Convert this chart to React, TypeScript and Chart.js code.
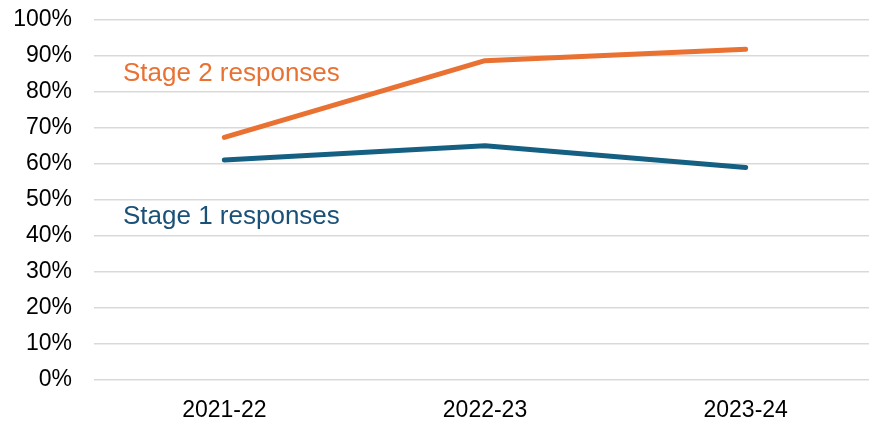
import React, { useEffect, useRef } from "react";
import { Chart, registerables } from "chart.js";

Chart.register(...registerables);

const categories = ["2021-22", "2022-23", "2023-24"];
const stage2Values = [0.674, 0.887, 0.919];
const stage1Values = [0.611, 0.651, 0.590];
const yTickValues = [0, 0.1, 0.2, 0.3, 0.4, 0.5, 0.6, 0.7, 0.8, 0.9, 1.0];
const seriesLabels = ["Stage 2 responses", "Stage 1 responses"];
const labelYValues = [0.85, 0.453];

const ORANGE = "#E97132";
const BLUE = "#156082";

const seriesLabelPlugin = {
  id: "seriesLabels",
  afterDatasetsDraw(chart: any) {
    const { ctx, scales } = chart;
    const y = scales.y;
    ctx.save();
    ctx.font = '26px "Liberation Sans", Arial, sans-serif';
    ctx.textBaseline = "middle";
    ctx.textAlign = "left";
    const colors = [ORANGE, "#1B5077"];
    seriesLabels.forEach((t, i) => {
      ctx.fillStyle = colors[i];
      ctx.fillText(t, 123, y.getPixelForValue(labelYValues[i]));
    });
    ctx.restore();
  },
};

export default function App() {
  const ref = useRef<HTMLCanvasElement | null>(null);
  useEffect(() => {
    if (!ref.current) return;
    const chart = new Chart(ref.current, {
      type: "line",
      data: {
        labels: categories,
        datasets: [
          {
            label: seriesLabels[0],
            data: stage2Values,
            borderColor: ORANGE,
            borderWidth: 5,
            pointRadius: 0,
            borderCapStyle: "round",
            borderJoinStyle: "round",
            tension: 0,
          },
          {
            label: seriesLabels[1],
            data: stage1Values,
            borderColor: BLUE,
            borderWidth: 5,
            pointRadius: 0,
            borderCapStyle: "round",
            borderJoinStyle: "round",
            tension: 0,
          },
        ],
      },
      options: {
        animation: false,
        responsive: false,
        maintainAspectRatio: false,
        layout: { padding: { top: 20, left: 0, right: 0, bottom: 0 } },
        plugins: { legend: { display: false }, tooltip: { enabled: false } },
        scales: {
          x: {
            type: "category",
            offset: true,
            grid: { display: false, drawTicks: false },
            border: { display: false },
            ticks: {
              color: "#000",
              padding: 17,
              maxRotation: 0,
              font: { family: '"Liberation Sans", Arial, sans-serif', size: 23 },
            },
            afterFit: (s: any) => {
              s.height = 41;
              s.paddingLeft = 0;
              s.paddingRight = 0;
            },
          },
          y: {
            min: 0,
            max: 1,
            afterBuildTicks: (s: any) => {
              s.ticks = yTickValues.map((v) => ({ value: v }));
            },
            grid: { color: "#d9d9d9", lineWidth: 1.5, drawTicks: false },
            border: { display: false },
            ticks: {
              color: "#000",
              padding: 22,
              font: { family: '"Liberation Sans", Arial, sans-serif', size: 23 },
              callback: (v: any) => Math.round(Number(v) * 100) + "%",
            },
            afterFit: (s: any) => {
              s.width = 94;
              s.paddingTop = 0;
              s.paddingBottom = 0;
            },
          },
        },
      },
      plugins: [seriesLabelPlugin],
    } as any);
    return () => chart.destroy();
  }, []);
  return (
    <div style={{ position: "fixed", left: 0, top: 0, width: 869, height: 421, overflow: "hidden", background: "#fff" }}>
      <canvas ref={ref} width={876} height={421} style={{ width: 876, height: 421, display: "block" }} />
    </div>
  );
}
